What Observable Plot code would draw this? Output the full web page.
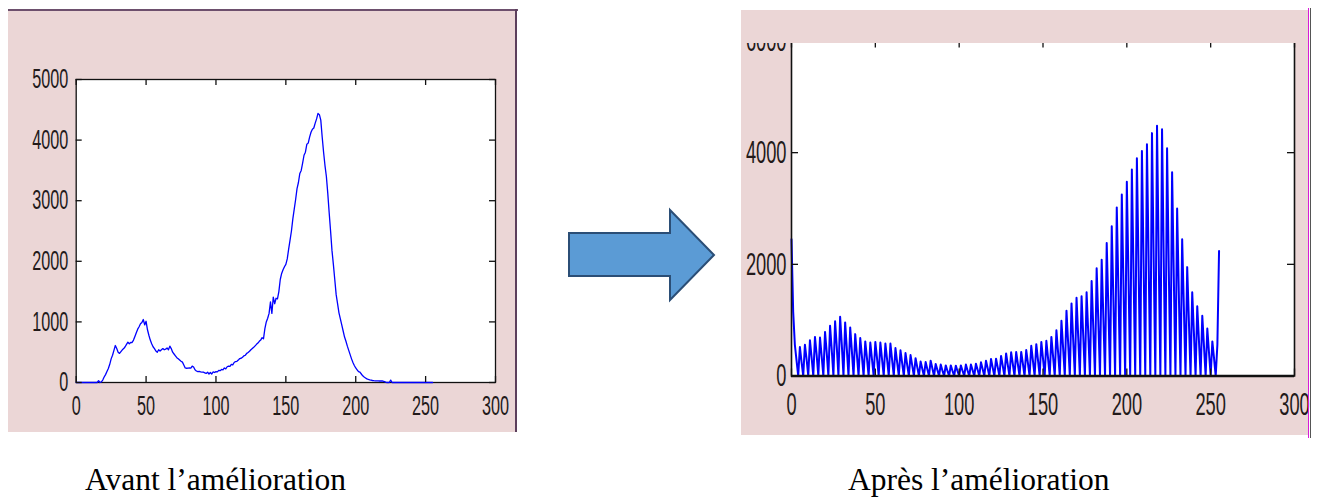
<!DOCTYPE html>
<html><head><meta charset="utf-8">
<script src="https://cdn.jsdelivr.net/npm/d3@7"></script>
<script src="https://cdn.jsdelivr.net/npm/@observablehq/plot@0.6"></script>
<style>
html,body{margin:0;padding:0;background:#fff;}
body{width:1317px;height:498px;overflow:hidden;position:relative;}
.abs{position:absolute;}
.pink{background:#ebd6d6;}
</style>
</head><body>
<div class="abs pink" style="left:8px;top:10px;width:508px;height:422px;"></div>
<div class="abs" style="left:8px;top:9px;width:510px;height:2px;background:#6d4f6d;"></div>
<div class="abs" style="left:515px;top:9px;width:2px;height:423px;background:#5c3f5c;"></div>
<div class="abs pink" style="left:741px;top:10px;width:567px;height:425px;"></div>
<div id="leftHost" class="abs" style="left:8px;top:10px;"></div>
<div id="rightHost" class="abs" style="left:741px;top:10px;"></div>
<div class="abs pink" style="left:741px;top:10px;width:567px;height:33px;"></div>
<div class="abs" style="left:1308px;top:8px;width:1px;height:430px;background:#d81bd8;"></div>
<div class="abs" style="left:1310px;top:8px;width:1px;height:430px;background:#555;"></div>
<svg class="abs" style="left:0;top:0;" width="1317" height="498">
  <polygon points="569,233 670,233 670,210 714,255 670,300 670,276 569,276" fill="#5b9bd5" stroke="#2b4e76" stroke-width="2" stroke-linejoin="miter"/>
  <text x="85" y="490" font-family="Liberation Serif, Times New Roman, serif" font-size="31.5" fill="#000">Avant l’amélioration</text>
  <text x="848" y="490" font-family="Liberation Serif, Times New Roman, serif" font-size="31.5" fill="#000">Après l’amélioration</text>
</svg>
<script>
// grey levels (x categories)
const levels = d3.range(256);
const xTicks = [0, 50, 100, 150, 200, 250, 300];
const yTicksBefore = [0, 1000, 2000, 3000, 4000, 5000];
const yTicksAfter = [0, 2000, 4000, 6000];

// histogram before enhancement
const countsBefore = [
  0,0,0,0,0,0,0,0,0,0,0,0,0,0,0,0,
  30,0,10,40,90,130,180,230,300,390,450,530,610,560,500,480,
  510,540,560,590,630,665,640,660,660,700,760,820,880,920,968,990,
  1040,950,1010,870,780,700,640,590,560,520,500,540,520,540,560,540,
  550,570,540,600,560,500,470,440,410,390,370,350,336,290,240,235,
  238,240,237,270,255,210,190,180,185,175,172,170,160,150,170,140,
  165,140,175,165,180,175,200,195,215,210,240,225,260,270,265,300,
  290,330,346,350,370,395,400,418,440,450,480,495,515,540,560,580,
  605,630,650,680,700,740,720,890,1000,1060,1140,1330,1140,1410,1300,1390,
  1380,1500,1700,1800,1860,1910,1950,2040,2200,2350,2500,2700,2860,3020,3200,3300,
  3450,3500,3620,3750,3800,3930,3950,4050,4130,4180,4200,4280,4350,4440,4420,4330,
  4050,3800,3580,3400,3120,2800,2500,2180,1950,1700,1450,1300,1150,1050,950,850,
  750,680,600,530,460,390,330,280,240,210,180,170,140,110,90,75,
  60,50,42,38,33,30,28,28,26,25,25,25,20,10,0,0,
  0,40,0,0,0,0,0,0,0,0,0,0,0,0,0,0,
  0,0,0,0,0,0,0,0,0,0,0,0,0,0,0,0
];

// histogram after enhancement
const countsAfter = [
  2450,1150,560,280,0,520,250,0,560,300,0,640,330,0,700,380,
  0,690,350,0,790,420,0,900,470,0,980,520,0,1060,560,0,
  960,480,0,870,450,0,750,380,0,680,350,0,620,320,0,600,
  300,0,610,320,0,600,300,0,580,300,0,580,290,0,500,250,
  0,460,230,0,410,200,0,375,190,0,320,160,0,260,130,0,
  250,125,0,275,140,0,215,110,0,205,100,0,190,95,0,190,
  95,0,185,90,0,190,95,0,205,100,0,205,105,0,220,110,
  0,245,125,0,275,140,0,305,150,0,310,155,0,360,180,0,
  405,200,0,425,215,0,430,215,0,430,220,0,465,230,0,540,
  270,0,570,290,0,610,310,0,630,320,0,700,350,0,820,420,
  0,990,500,0,1170,590,0,1300,650,0,1400,700,0,1430,720,0,
  1500,760,0,1700,860,0,1930,970,0,2080,1050,0,2380,1200,0,2680,
  1350,0,3020,1520,0,3250,1620,0,3480,1750,0,3700,1850,0,3900,1950,
  0,4030,2000,0,4150,2050,0,4350,2100,0,4480,2150,0,4420,2100,0,
  4080,1950,0,3650,1800,0,3000,1500,0,2450,1250,0,1950,1000,0,1500,
  780,0,1250,640,0,1080,540,0,850,420,0,620,320,0,560,2240
];

const before = levels.map((g, i) => ({level: g, count: countsBefore[i]}));
const after = levels.map((g, i) => ({level: g, count: countsAfter[i]}));

// narrow the tick-label glyphs (the reference uses a condensed face)
function compress(svg, s) {
  svg.querySelectorAll("g[aria-label$='tick label'] text").forEach(t => {
    const len = t.getComputedTextLength();
    if (len > 0) {
      t.setAttribute("textLength", (len * s).toFixed(2));
      t.setAttribute("lengthAdjust", "spacingAndGlyphs");
    }
  });
}

function histPlot({data, width, height, mL, mR, mT, mB, yDomain, yTicks, fontSize, lineW, frameW, tickLen, padX, padY, lineOnTop, extra = []}) {
  const iw = width - mL - mR, ih = height - mT - mB;
  const line = Plot.line(data, {x: "level", y: "count", stroke: "#0000ff", strokeWidth: lineW});
  const frame = Plot.frame({stroke: "#111", strokeWidth: frameW});
  return Plot.plot({
    width, height, marginLeft: mL, marginRight: mR, marginTop: mT, marginBottom: mB,
    style: {background: "transparent", fontFamily: "Liberation Sans, Arial, sans-serif", fontSize: fontSize + "px", color: "#221a1a", overflow: "visible"},
    x: {domain: [0, 300]},
    y: {domain: yDomain},
    marks: [
      Plot.frame({fill: "white", stroke: "none"}),
      ...(lineOnTop ? [frame, ...extra, line] : [line, frame, ...extra]),
      Plot.ruleX(xTicks, {stroke: "#111", strokeWidth: 1.3, insetTop: ih - tickLen}),
      Plot.ruleX(xTicks, {stroke: "#111", strokeWidth: 1.3, insetBottom: ih - tickLen}),
      Plot.ruleY(yTicks, {stroke: "#111", strokeWidth: 1.3, insetRight: iw - tickLen}),
      Plot.ruleY(yTicks, {stroke: "#111", strokeWidth: 1.3, insetLeft: iw - tickLen}),
      Plot.axisX(xTicks, {tickSize: 0, tickPadding: padX, label: null, tickFormat: "d", fill: "#221a1a"}),
      Plot.axisY(yTicks, {tickSize: 0, tickPadding: padY, label: null, tickFormat: "d", fill: "#221a1a"})
    ]
  });
}

const leftSvg = histPlot({
  data: before, width: 509, height: 422, mL: 67.7, mR: 22, mT: 69, mB: 50,
  yDomain: [0, 5000], yTicks: yTicksBefore, fontSize: 27, lineW: 1.3, frameW: 1.3,
  tickLen: 6, padX: 13, padY: 8, lineOnTop: true
});
document.getElementById("leftHost").appendChild(leftSvg);
compress(leftSvg, 0.6);

const rightSvg = histPlot({
  data: after, width: 567, height: 425, mL: 50, mR: 14, mT: 30.5, mB: 59.5,
  yDomain: [0, 6000], yTicks: yTicksAfter, fontSize: 32, lineW: 2, frameW: 1.6,
  tickLen: 7, padX: 16, padY: 5, lineOnTop: false,
  extra: [Plot.ruleY([0], {stroke: "#111", strokeWidth: 2.4})]
});
document.getElementById("rightHost").appendChild(rightSvg);
compress(rightSvg, 0.57);
</script>
</body></html>
